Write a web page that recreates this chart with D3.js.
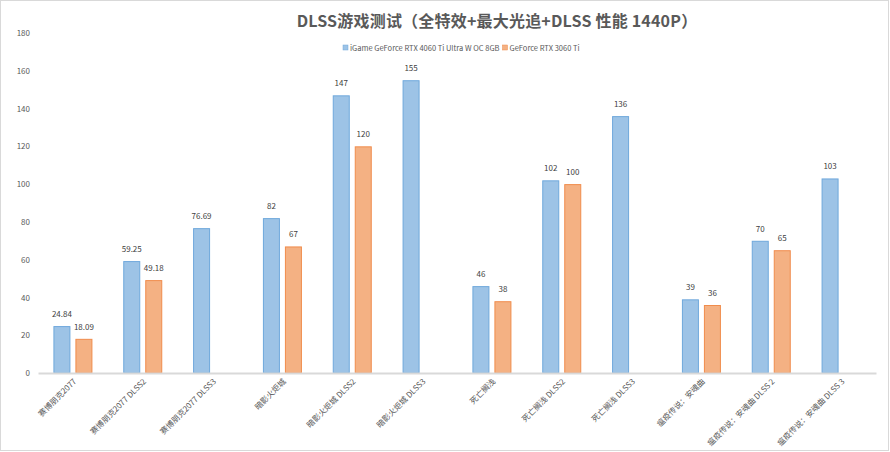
<!DOCTYPE html>
<html><head><meta charset="utf-8">
<script src="https://cdn.jsdelivr.net/npm/d3@7"></script>
<style>body{margin:0;background:#fff;} text{font-family:"Noto Sans CJK SC","Noto Sans",sans-serif;}</style>
</head><body><svg id="c" width="890" height="452"></svg>
<script>
const categories = ["赛博朋克2077","赛博朋克2077 DLSS2","赛博朋克2077 DLSS3","暗影火炬城","暗影火炬城 DLSS2","暗影火炬城 DLSS3","死亡搁浅","死亡搁浅 DLSS2","死亡搁浅 DLSS3","瘟疫传说：安魂曲","瘟疫传说：安魂曲 DLSS 2","瘟疫传说：安魂曲 DLSS 3"];
const seriesNames = ["iGame GeForce RTX 4060 Ti Ultra W OC 8GB","GeForce RTX 3060 Ti"];
const s4060 = [24.84,59.25,76.69,82,147,155,46,102,136,39,70,103];
const s3060 = [18.09,49.18,null,67,120,null,38,100,null,36,65,null];
const yTicks = [0,20,40,60,80,100,120,140,160,180];
const title = "DLSS游戏测试（全特效+最大光追+DLSS 性能 1440P）";

const svg = d3.select("#c");
svg.append("rect").attr("x",0.5).attr("y",0.5).attr("width",888).attr("height",450).attr("fill","#fff").attr("stroke","#d9d9d9");

const L=38,R=876,T=33,B=373;
const x = d3.scaleBand().domain(categories).range([L,R]);
const y = d3.scaleLinear().domain([0,180]).range([B,T]);
const bw=17, gap=5;
const fills=["#9dc3e6","#f4b183"], strokes=["#6fa8dc","#f08c4c"];

svg.append("text").attr("x",497).attr("y",27).attr("text-anchor","middle")
  .attr("font-size",16).attr("font-weight","bold").attr("fill","#595959").attr("letter-spacing",0.2).text(title);

// legend
const lg = svg.append("g");
let lx=343;
seriesNames.forEach((n,i)=>{
  lg.append("rect").attr("x",lx).attr("y",45).attr("width",5).attr("height",5).attr("fill",fills[i]).attr("stroke",strokes[i]).attr("stroke-width",0.5);
  const t=lg.append("text").attr("x",lx+7).attr("y",50.5).attr("font-size",7.5).attr("fill","#595959").text(n);
  lx += 7 + t.node().getComputedTextLength() + 3;
});

// y axis labels
const ya = svg.append("g").attr("transform",`translate(${L-8},0)`)
  .call(d3.axisLeft(y).tickValues(yTicks).tickSize(0).tickPadding(0));
ya.select(".domain").remove();
ya.selectAll("text").attr("font-size",8).attr("fill","#595959").attr("font-family","'Noto Sans','DejaVu Sans',sans-serif");

[s4060,s3060].forEach((s,si)=>{
  const g=svg.append("g");
  categories.forEach((c,i)=>{
    const v=s[i]; if(v==null) return;
    const cx=x(c)+x.bandwidth()/2;
    const bx = si===0 ? cx-gap/2-bw : cx+gap/2;
    g.append("rect").attr("x",bx+0.5).attr("y",y(v)+0.5).attr("width",bw-1).attr("height",B-y(v)-0.5)
      .attr("fill",fills[si]).attr("stroke",strokes[si]).attr("stroke-width",1);
    g.append("text").attr("x",bx+bw/2).attr("y",y(v)-9).attr("text-anchor","middle")
      .attr("font-size",8).attr("fill","#404040").text(v);
  });
});

// x axis
const xa = svg.append("g").attr("transform",`translate(0,${B})`).call(d3.axisBottom(x).tickSize(0).tickPadding(0));
xa.select(".domain").attr("stroke","#d9d9d9").attr("stroke-width",2);
xa.selectAll("text").attr("font-size",8).attr("fill","#595959").attr("text-anchor","end")
  .attr("dy",0).attr("transform","translate(4,9) rotate(-45)");
</script></body></html>
